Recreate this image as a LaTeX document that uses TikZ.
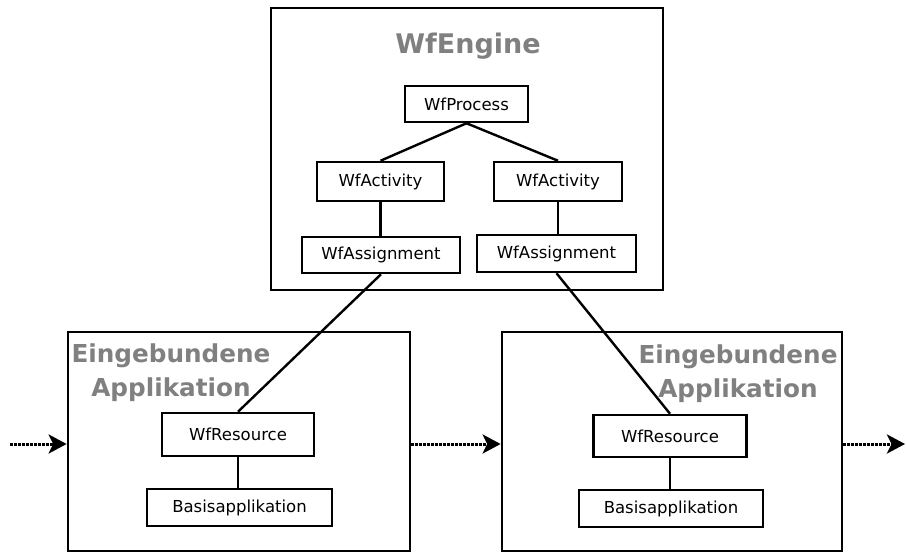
\documentclass[tikz,border=0pt]{standalone}
\usepackage{fontspec}
\setmainfont{DejaVu Sans}
\usetikzlibrary{arrows.meta}
\definecolor{titlegray}{RGB}{128,128,128}
\tikzset{
  frame/.style={draw, line width=2.7pt, inner sep=0pt},
  obj/.style={draw, line width=2.5pt, inner sep=0pt, font=\fontsize{16.5}{19}\selectfont},
  title/.style={text=titlegray, font=\bfseries\fontsize{24.7}{29}\selectfont, anchor=base, inner sep=0pt},
  link/.style={line width=2.4pt},
  flow/.style={line width=3pt, dash pattern=on 2.6pt off 1.4pt,
    -{Stealth[length=18pt,width=19pt,inset=4.5pt]}}
}
\begin{document}
\begin{tikzpicture}[x=1pt,y=-1pt]
\useasboundingbox (0,0) rectangle (906,554);

% containers
\node[frame, minimum width=392pt, minimum height=282pt] (engine) at (467,149) {};
\node[frame, minimum width=342pt, minimum height=219pt] (appL) at (239,441.5) {};
\node[frame, minimum width=340pt, minimum height=219pt] (appR) at (672,441.5) {};

% container titles
\node[title, font=\bfseries\fontsize{27}{32}\selectfont] (tEngine) at (468,53) {WfEngine};
\node[title] (tL1) at (171,362) {Eingebundene};
\node[title] (tL2) at (171,396) {Applikation};
\node[title] (tR1) at (738,363) {Eingebundene};
\node[title] (tR2) at (738,397) {Applikation};

% engine objects
\node[obj, minimum width=123pt, minimum height=36pt] (proc) at (466.5,104) {WfProcess};
\node[obj, minimum width=127pt, minimum height=39pt] (actL) at (380.5,181.5) {WfActivity};
\node[obj, minimum width=128pt, minimum height=39pt] (actR) at (558,181.5) {WfActivity};
\node[obj, minimum width=158pt, minimum height=36pt] (asgL) at (381,255) {WfAssignment};
\node[obj, minimum width=159pt, minimum height=37pt] (asgR) at (556.5,253.5) {WfAssignment};

% application objects
\node[obj, minimum width=152pt, minimum height=43pt] (resL) at (238,434.5) {WfResource};
\node[obj, minimum width=153pt, minimum height=42pt] (resR) at (670,436) {WfResource};
\node[obj, minimum width=185pt, minimum height=37pt] (basL) at (239.5,507.5) {Basisapplikation};
\node[obj, minimum width=184pt, minimum height=37pt] (basR) at (671,508.5) {Basisapplikation};

% links
\draw[link] (proc.south) -- (actL.north);
\draw[link] (proc.south) -- (actR.north);
\draw[link] (actL.south) -- (actL.south |- asgL.north);
\draw[link] (actR.south) -- (actR.south |- asgR.north);
\draw[link] (asgL.south) -- (resL.north);
\draw[link] (asgR.south) -- (resR.north);
\draw[link] (resL.south) -- (resL.south |- basL.north);
\draw[link] (resR.south) -- (resR.south |- basR.north);

% control flow between applications
\coordinate (inStart) at (10,444);
\coordinate (outEnd) at (905,444);
\draw[flow] (inStart) -- (inStart -| appL.west);
\draw[flow] (appL.east |- inStart) -- (appR.west |- inStart);
\draw[flow] (appR.east |- outEnd) -- (outEnd);
\end{tikzpicture}
\end{document}
